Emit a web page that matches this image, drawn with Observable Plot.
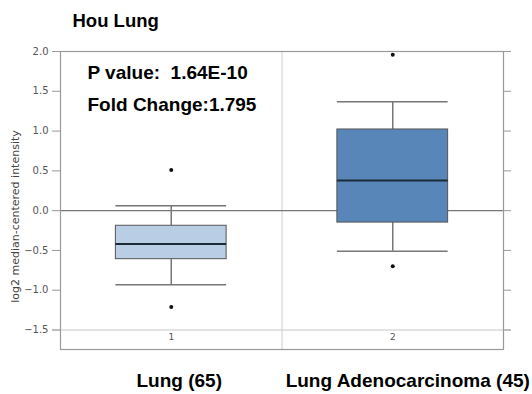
<!DOCTYPE html>
<html>
<head>
<meta charset="utf-8">
<script src="https://cdn.jsdelivr.net/npm/d3@7"></script>
<script src="https://cdn.jsdelivr.net/npm/@observablehq/plot@0.6"></script>
<style>
  html, body { margin: 0; padding: 0; background: #fff; }
</style>
</head>
<body>
<div id="chart"></div>
<script>
// ---- data ----
const title = "Hou Lung";
const statLines = ["P value:  1.64E-10", "Fold Change:1.795"];
const groups = [1, 2];
const groupNames = ["Lung (65)", "Lung Adenocarcinoma (45)"];
const whiskerLow = [-0.93, -0.51];
const q1 = [-0.61, -0.15];
const median = [-0.42, 0.38];
const q3 = [-0.19, 1.02];
const whiskerHigh = [0.06, 1.37];
const outlierGroup = [1, 1, 2, 2];
const outlierValue = [0.51, -1.21, 1.96, -0.70];
const boxFill = ["#b9cde5", "#5886b8"];
const yTicks = [-1.5, -1.0, -0.5, 0.0, 0.5, 1.0, 1.5, 2.0];
const yLabel = "log2 median-centered intensity";

const boxes = groups.map((g, i) => ({
  g, name: groupNames[i], lo: whiskerLow[i], q1: q1[i], med: median[i],
  q3: q3[i], hi: whiskerHigh[i], fill: boxFill[i]
}));
const outliers = outlierGroup.map((g, i) => ({g, v: outlierValue[i]}));
const half = 0.25;

const bold = "Liberation Sans, Arial, Helvetica, sans-serif";
const tickFont = "DejaVu Sans, Verdana, sans-serif";

const chart = Plot.plot({
  width: 532,
  height: 394,
  marginLeft: 60,
  marginRight: 29,
  marginTop: 51,
  marginBottom: 45,
  style: {fontFamily: tickFont, fontSize: "10px", color: "#555", background: "#fff"},
  x: {domain: [0.5, 2.5], axis: null},
  y: {domain: [-1.745, 2.0], axis: null},
  marks: [
    // reference lines
    Plot.ruleY([-1.5], {stroke: "#c8c8c8", strokeWidth: 1, insetLeft: -8, insetRight: -8}),
    Plot.ruleX([1.5], {stroke: "#cfcfcf", strokeWidth: 1}),
    Plot.ruleY([0], {stroke: "#777", strokeWidth: 1.2}),
    // axes
    Plot.axisY({anchor: "left", ticks: yTicks, tickSize: 8, tickPadding: 4, stroke: "#999",
      tickFormat: d3.format(".1f"), fill: "#555", fontSize: 10, label: null}),
    Plot.axisY({anchor: "right", ticks: yTicks, tickSize: 7, stroke: "#999", tickFormat: () => "", label: null}),
    Plot.axisX({anchor: "bottom", ticks: groups, tickSize: 0, tickPadding: 0, dy: -16,
      tickFormat: d3.format("d"), fill: "#555", fontSize: 9, label: null}),
    Plot.text([yLabel], {frameAnchor: "left", text: d => d, rotate: -90, textAnchor: "middle",
      lineAnchor: "middle", dx: -45, dy: 16, fill: "#444", fontSize: 11, fontFamily: tickFont}),
    // whiskers
    Plot.ruleX(boxes, {x: "g", y1: "lo", y2: "q1", stroke: "#777", strokeWidth: 1.5}),
    Plot.ruleX(boxes, {x: "g", y1: "q3", y2: "hi", stroke: "#777", strokeWidth: 1.5}),
    Plot.ruleY(boxes, {y: "lo", x1: d => d.g - half, x2: d => d.g + half, stroke: "#777", strokeWidth: 1.5}),
    Plot.ruleY(boxes, {y: "hi", x1: d => d.g - half, x2: d => d.g + half, stroke: "#777", strokeWidth: 1.5}),
    // boxes
    Plot.rect(boxes, {x1: d => d.g - half, x2: d => d.g + half, y1: "q1", y2: "q3",
      fill: "fill", stroke: "#555", strokeWidth: 1}),
    Plot.ruleY(boxes, {y: "med", x1: d => d.g - half, x2: d => d.g + half, stroke: "#1c2a38", strokeWidth: 2}),
    // outliers
    Plot.dot(outliers, {x: "g", y: "v", r: 2, fill: "#111", stroke: null}),
    Plot.frame({stroke: "#999", strokeWidth: 1.2}),
    // texts
    Plot.text([title], {frameAnchor: "top-left", text: d => d, textAnchor: "start", lineAnchor: "top",
      dx: 12, dy: -38, fontFamily: bold, fontWeight: "bold", fontSize: 18.5, fill: "#000"}),
    Plot.text(statLines, {frameAnchor: "top-left", text: d => d, textAnchor: "start", lineAnchor: "top",
      dx: 27, fontFamily: bold, fontWeight: "bold", fontSize: 19, fill: "#000",
      filter: (d, i) => i === 0, dy: 14}),
    Plot.text(statLines, {frameAnchor: "top-left", text: d => d, textAnchor: "start", lineAnchor: "top",
      dx: 27, fontFamily: bold, fontWeight: "bold", fontSize: 19, fill: "#000",
      filter: (d, i) => i === 1, dy: 46}),
    Plot.text(boxes.filter((d, i) => i === 0), {x: "g", text: "name", frameAnchor: "bottom", lineAnchor: "top",
      dx: 8, dy: 24, fontFamily: bold, fontWeight: "bold", fontSize: 19, fill: "#000"}),
    Plot.text(boxes.filter((d, i) => i === 1), {x: "g", text: "name", frameAnchor: "bottom", lineAnchor: "top",
      dx: 15, dy: 24, fontFamily: bold, fontWeight: "bold", fontSize: 19, fill: "#000"})
  ]
});
document.getElementById("chart").appendChild(chart);
</script>
</body>
</html>
